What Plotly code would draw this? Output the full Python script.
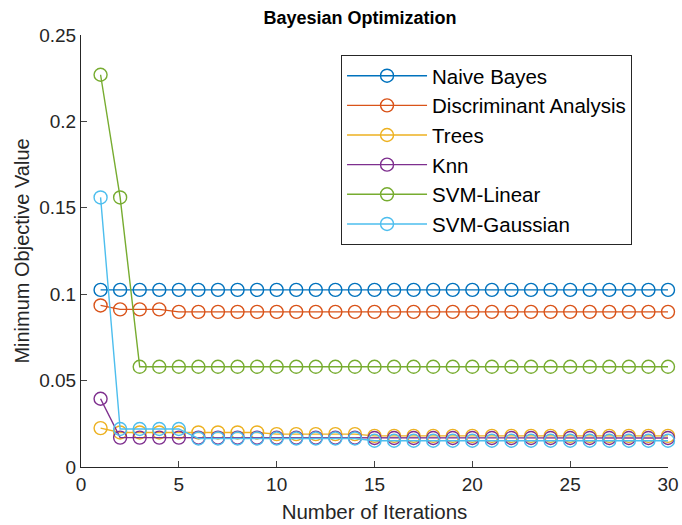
import plotly.graph_objects as go

iterations = list(range(1, 31))

naive_bayes = [0.1025, 0.1025, 0.1025, 0.1025, 0.1025, 0.1025, 0.1025, 0.1025, 0.1025, 0.1025,
               0.1025, 0.1025, 0.1025, 0.1025, 0.1025, 0.1025, 0.1025, 0.1025, 0.1025, 0.1025,
               0.1025, 0.1025, 0.1025, 0.1025, 0.1025, 0.1025, 0.1025, 0.1025, 0.1025, 0.1025]
discriminant = [0.0935, 0.0912, 0.0912, 0.0912, 0.0898, 0.0898, 0.0898, 0.0898, 0.0898, 0.0898,
                0.0898, 0.0898, 0.0898, 0.0898, 0.0898, 0.0898, 0.0898, 0.0898, 0.0898, 0.0898,
                0.0898, 0.0898, 0.0898, 0.0898, 0.0898, 0.0898, 0.0898, 0.0898, 0.0898, 0.0898]
trees = [0.0225, 0.0200, 0.0200, 0.0200, 0.0200, 0.0200, 0.0200, 0.0200, 0.0200, 0.0190,
         0.0190, 0.0190, 0.0190, 0.0190, 0.0180, 0.0180, 0.0180, 0.0180, 0.0180, 0.0180,
         0.0180, 0.0180, 0.0180, 0.0180, 0.0180, 0.0180, 0.0180, 0.0180, 0.0180, 0.0180]
knn = [0.0395, 0.0170, 0.0170, 0.0170, 0.0170, 0.0170, 0.0170, 0.0170, 0.0170, 0.0170,
       0.0170, 0.0170, 0.0170, 0.0170, 0.0168, 0.0168, 0.0168, 0.0168, 0.0168, 0.0168,
       0.0168, 0.0168, 0.0168, 0.0168, 0.0168, 0.0168, 0.0168, 0.0168, 0.0168, 0.0168]
svm_linear = [0.227, 0.156, 0.058, 0.058, 0.058, 0.058, 0.058, 0.058, 0.058, 0.058,
              0.058, 0.058, 0.058, 0.058, 0.058, 0.058, 0.058, 0.058, 0.058, 0.058,
              0.058, 0.058, 0.058, 0.058, 0.058, 0.058, 0.058, 0.058, 0.058, 0.058]
svm_gaussian = [0.156, 0.0220, 0.0220, 0.0220, 0.0220, 0.0165, 0.0165, 0.0165, 0.0165, 0.0165,
                0.0165, 0.0165, 0.0165, 0.0165, 0.0152, 0.0152, 0.0152, 0.0152, 0.0152, 0.0152,
                0.0152, 0.0152, 0.0152, 0.0152, 0.0152, 0.0152, 0.0152, 0.0152, 0.0152, 0.0152]

series_names = ["Naive Bayes", "Discriminant Analysis", "Trees", "Knn", "SVM-Linear", "SVM-Gaussian"]
series_values = [naive_bayes, discriminant, trees, knn, svm_linear, svm_gaussian]
colors = ["#0072BD", "#D95319", "#EDB120", "#7E2F8E", "#77AC30", "#4DBEEE"]

x_ticks = [0, 5, 10, 15, 20, 25, 30]
y_ticks = [0, 0.05, 0.1, 0.15, 0.2, 0.25]
y_tick_text = ["0", "0.05", "0.1", "0.15", "0.2", "0.25"]

fig = go.Figure()
for name, vals, col in zip(series_names, series_values, colors):
    fig.add_trace(go.Scatter(
        x=iterations, y=vals, name=name, mode="lines+markers",
        line=dict(color=col, width=1.4),
        marker=dict(symbol="circle-open", size=13, color=col, line=dict(width=1.4)),
        cliponaxis=False,
    ))

font_family = "Liberation Sans, Arial, sans-serif"
fig.update_layout(
    width=682, height=525,
    margin=dict(l=81, r=14, t=35, b=58),
    paper_bgcolor="white", plot_bgcolor="white",
    font=dict(family=font_family, size=19, color="#262626"),
    title=dict(text="<b>Bayesian Optimization</b>", x=360 / 682, xanchor="center",
               y=1 - 18 / 525, yanchor="middle", font=dict(size=18, color="black")),
    showlegend=True,
    legend=dict(x=0.443, y=0.954, xanchor="left", yanchor="top",
                bordercolor="#262626", borderwidth=1, bgcolor="white",
                font=dict(size=20.5, color="black"),
                traceorder="normal", itemwidth=80),
    xaxis=dict(range=[0, 30], tickvals=x_ticks, ticks="inside", ticklen=6,
               showline=True, linecolor="#262626", linewidth=1, showgrid=False,
               zeroline=False, mirror=False, tickfont=dict(size=19), automargin=False,
               title=dict(text="Number of Iterations", font=dict(size=20.5), standoff=10)),
    yaxis=dict(range=[0, 0.25], tickvals=y_ticks, ticktext=y_tick_text, ticks="inside", ticklen=6,
               showline=True, linecolor="#262626", linewidth=1, showgrid=False,
               zeroline=False, mirror=False, tickfont=dict(size=19), automargin=False,
               title=dict(text="Minimum Objective Value", font=dict(size=20), standoff=4)),
)

fig.write_html("out.html")
